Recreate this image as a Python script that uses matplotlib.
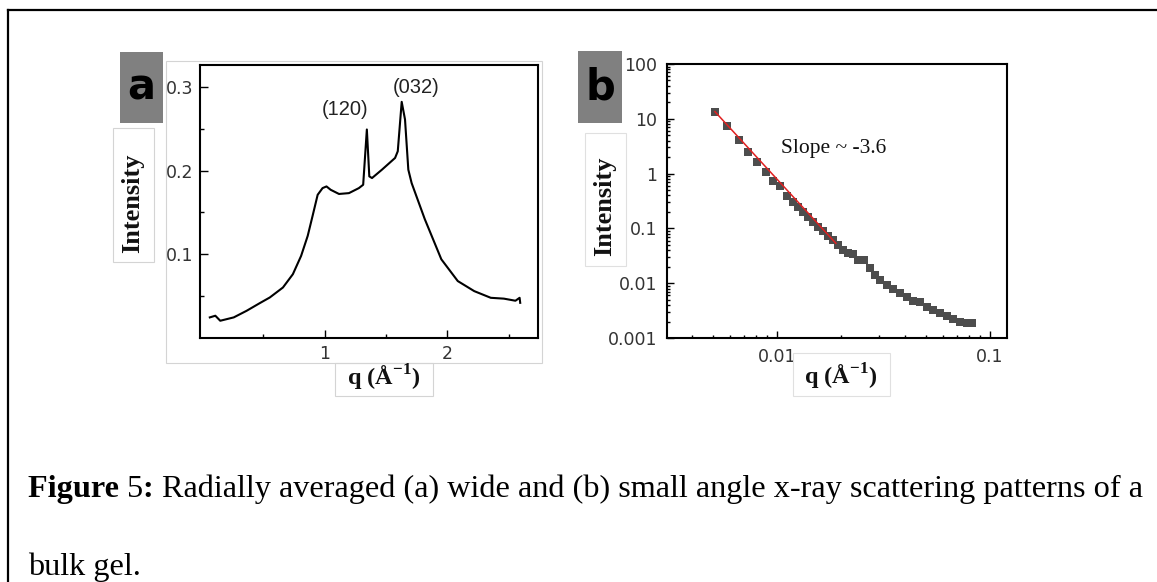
import numpy as np
import matplotlib
matplotlib.use("Agg")
import matplotlib.pyplot as plt
import matplotlib.patches as patches
from matplotlib.ticker import LogLocator, FixedLocator, FixedFormatter, NullFormatter

plt.rcParams['mathtext.fontset'] = 'custom'
plt.rcParams['mathtext.rm'] = 'Liberation Serif'
plt.rcParams['mathtext.bf'] = 'Liberation Serif:bold'

# panel a: WAXS curve
waxs_q = [0.065, 0.11, 0.15, 0.26, 0.365, 0.473, 0.554, 0.661, 0.742, 0.809, 0.863, 0.903,
          0.944, 0.984, 1.016, 1.05, 1.118, 1.199, 1.28, 1.315, 1.345, 1.365, 1.387, 1.468,
          1.575, 1.597, 1.629, 1.656, 1.683, 1.71, 1.817, 1.952, 2.086, 2.22, 2.355, 2.462,
          2.556, 2.59, 2.595]
waxs_I = [0.0246, 0.0266, 0.0206, 0.0246, 0.0325, 0.0417, 0.0484, 0.0603, 0.0762, 0.098,
          0.122, 0.146, 0.171, 0.179, 0.181, 0.177, 0.172, 0.173, 0.179, 0.183, 0.249, 0.193,
          0.191, 0.201, 0.215, 0.223, 0.282, 0.261, 0.201, 0.185, 0.142, 0.094, 0.068, 0.056,
          0.048, 0.047, 0.0445, 0.048, 0.042]
peak_labels = ['(120)', '(032)']
peak_q = [1.165, 1.75]
peak_y = [0.262, 0.288]

# panel b: SAXS points
saxs_q = [0.00512, 0.00585, 0.00664, 0.00733, 0.00809, 0.00885, 0.0096, 0.0103, 0.0111,
          0.0119, 0.0126, 0.0133, 0.0140, 0.0148, 0.0156, 0.0165, 0.0174, 0.0184, 0.0194,
          0.0205, 0.0216, 0.0228, 0.0241, 0.0256, 0.0273, 0.0288, 0.0305, 0.0327, 0.0351,
          0.0378, 0.0406, 0.0437, 0.0469, 0.0505, 0.0542, 0.0582, 0.0625, 0.0672, 0.0722,
          0.0776, 0.082]
saxs_I = [13.5, 7.39, 4.10, 2.51, 1.65, 1.08, 0.74, 0.60, 0.395, 0.307, 0.249, 0.20,
          0.163, 0.132, 0.107, 0.0897, 0.073, 0.061, 0.0497, 0.0405, 0.036, 0.034, 0.0265,
          0.026, 0.0187, 0.0142, 0.0115, 0.0092, 0.0077, 0.0065, 0.0057, 0.0048, 0.0046,
          0.0037, 0.00324, 0.00283, 0.00253, 0.00222, 0.0020, 0.00188, 0.00188]
fit_q = [0.00512, 0.0189]
fit_I = [13.5, 0.0535]
slope_text = 'Slope ~ -3.6'

caption_runs = [('Figure ', 'bold'), ('5', 'normal'), (': ', 'bold'),
                ('Radially averaged (a) wide and (b) small angle x-ray scattering patterns of a', 'normal')]
caption_line2 = 'bulk gel.'

W, H = 1157, 582
fig = plt.figure(figsize=(W / 100, H / 100), dpi=100)

def fx(px):
    return px / W

def fy(py):
    return 1 - py / H

def frame(x0, y0, x1, y1, **kw):
    fig.patches.append(patches.Rectangle((fx(x0), fy(y1)), fx(x1) - fx(x0), fy(y0) - fy(y1),
                                         transform=fig.transFigure, **kw))

# outer border (left + top)
fig.add_artist(plt.Line2D([fx(8), fx(8)], [fy(10), 0], color='black', lw=1.6,
                          transform=fig.transFigure))
fig.add_artist(plt.Line2D([fx(8), 1], [fy(10), fy(10)], color='black', lw=1.6,
                          transform=fig.transFigure))

# light gray frames of pasted pieces
frame(166, 61, 542, 363, fill=False, ec='#d4d4d4', lw=0.8)
frame(113, 128, 154, 262, fill=False, ec='#d4d4d4', lw=0.8)
frame(335, 363, 433, 396, fill=False, ec='#d4d4d4', lw=0.8)
frame(585, 133, 626, 266, fill=False, ec='#e0e0e0', lw=0.8)
frame(793, 353, 890, 396, fill=False, ec='#e0e0e0', lw=0.8)
# panel letter boxes
frame(120, 52, 163, 123, fc='#808080', ec='none')
frame(578, 51, 622, 123, fc='#808080', ec='none')
fig.text(fx(141.5), fy(88), 'a', ha='center', va='center', fontsize=30,
         fontweight='bold', family='DejaVu Sans', color='black')
fig.text(fx(600), fy(88), 'b', ha='center', va='center', fontsize=30,
         fontweight='bold', family='DejaVu Sans', color='black')

tick_kw = dict(direction='in', labelsize=12.5, labelcolor='#333333', width=1.0,
               top=False, right=False)

# ---- panel a
axa = fig.add_axes([fx(200), fy(338), fx(538) - fx(200), fy(65) - fy(338)])
axa.plot(waxs_q, waxs_I, color='black', lw=1.5)
axa.set_xlim(-0.015, 2.74)
axa.set_ylim(0.0, 0.326)
axa.xaxis.set_major_locator(FixedLocator([1, 2]))
axa.xaxis.set_minor_locator(FixedLocator([0.5, 1.5, 2.5]))
axa.yaxis.set_major_locator(FixedLocator([0.1, 0.2, 0.3]))
axa.yaxis.set_minor_locator(FixedLocator([0.05, 0.15, 0.25]))
axa.tick_params(which='major', length=6, pad=5, **tick_kw)
axa.tick_params(which='minor', length=3, direction='in', width=1.0, top=False, right=False)
for s in axa.spines.values():
    s.set_linewidth(1.5)
for lab, q, y in zip(peak_labels, peak_q, peak_y):
    axa.text(q, y, lab, ha='center', va='bottom', fontsize=14.5, color='#222222',
             family='Liberation Sans')

# ---- panel b
axb = fig.add_axes([fx(667), fy(338), fx(1007) - fx(667), fy(64) - fy(338)])
axb.set_xscale('log')
axb.set_yscale('log')
axb.plot(saxs_q, saxs_I, 's', color='#4d4d4d', ms=6, mew=0)
axb.plot(fit_q, fit_I, color='#e02020', lw=1.1)
axb.set_xlim(0.00305, 0.12)
axb.set_ylim(0.001, 100)
axb.xaxis.set_major_locator(FixedLocator([0.01, 0.1]))
axb.xaxis.set_major_formatter(FixedFormatter(['0.01', '0.1']))
axb.xaxis.set_minor_locator(LogLocator(base=10, subs=np.arange(2, 10)))
axb.xaxis.set_minor_formatter(NullFormatter())
axb.yaxis.set_major_locator(FixedLocator([0.001, 0.01, 0.1, 1, 10, 100]))
axb.yaxis.set_major_formatter(FixedFormatter(['0.001', '0.01', '0.1', '1', '10', '100']))
axb.yaxis.set_minor_locator(LogLocator(base=10, subs=np.arange(2, 10)))
axb.yaxis.set_minor_formatter(NullFormatter())
axb.tick_params(which='major', length=5, pad=7, **tick_kw)
axb.tick_params(which='minor', length=2.5, direction='in', width=1.0, top=False, right=False)
for s in axb.spines.values():
    s.set_linewidth(1.5)
axb.text(0.0185, 2.9, slope_text, ha='center', va='center', fontsize=15.5,
         family='Liberation Serif', color='#111111')

# axis labels
lab_kw = dict(ha='center', va='center', fontweight='bold',
              family='Liberation Serif', color='#111111')
fig.text(fx(133), fy(203), 'Intensity', rotation=90, fontsize=19, **lab_kw)
fig.text(fx(605), fy(206), 'Intensity', rotation=90, fontsize=19, **lab_kw)
fig.text(fx(384), fy(378), r'q (Å$^{\mathbf{-1}}$)', fontsize=17.5, **lab_kw)
fig.text(fx(841), fy(377), r'q (Å$^{\mathbf{-1}}$)', fontsize=17.5, **lab_kw)

# caption, drawn run by run so bold and regular parts sit on one line
cap_kw = dict(fontsize=23.2, family='Liberation Serif', color='black', va='baseline')
renderer = fig.canvas.get_renderer()
x = 28
for txt, wt in caption_runs:
    t = fig.text(fx(x), fy(497), txt, fontweight=wt, **cap_kw)
    x = t.get_window_extent(renderer).x1
fig.text(fx(28), fy(575), caption_line2, **cap_kw)

fig.savefig('out.png', dpi=100)
